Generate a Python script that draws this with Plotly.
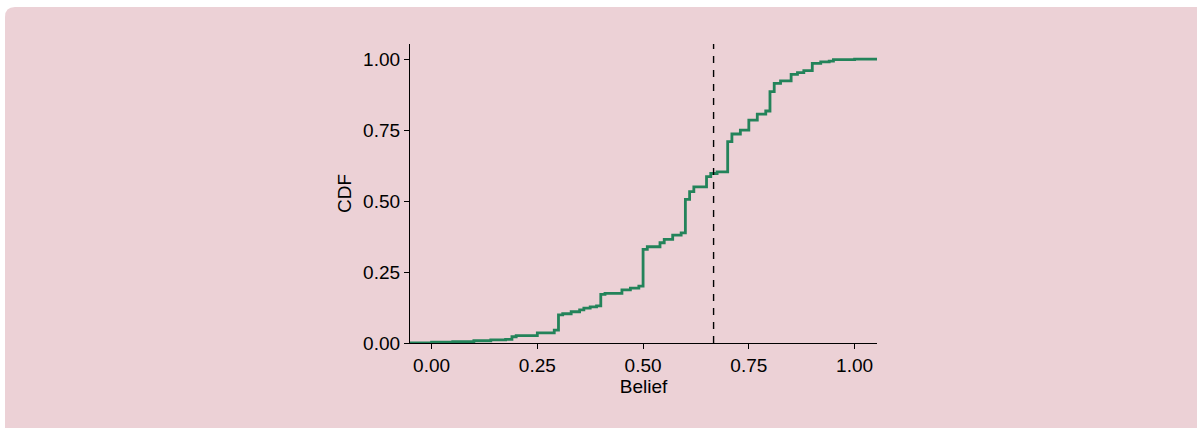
import plotly.graph_objects as go

# Step points of the empirical CDF (belief value where the step occurs, CDF level after it)
belief = [-0.051, 0.0, 0.05, 0.10, 0.14, 0.175, 0.19, 0.20, 0.25, 0.29, 0.30, 0.31, 0.33, 0.35,
          0.36, 0.375, 0.39, 0.40, 0.41, 0.45, 0.47, 0.49, 0.50, 0.51, 0.54, 0.55, 0.57, 0.59,
          0.60, 0.61, 0.62, 0.65, 0.66, 0.675, 0.70, 0.71, 0.73, 0.75, 0.77, 0.79, 0.80, 0.81,
          0.825, 0.85, 0.865, 0.88, 0.90, 0.92, 0.94, 0.95, 1.00, 1.053]
cdf = [0.0, 0.003, 0.005, 0.008, 0.011, 0.013, 0.022, 0.026, 0.036, 0.045, 0.099, 0.103, 0.110, 0.117,
       0.123, 0.127, 0.131, 0.171, 0.175, 0.187, 0.193, 0.200, 0.330, 0.339, 0.353, 0.365, 0.380, 0.388,
       0.506, 0.533, 0.550, 0.586, 0.597, 0.603, 0.709, 0.736, 0.750, 0.785, 0.806, 0.817, 0.885, 0.914,
       0.923, 0.946, 0.952, 0.959, 0.985, 0.990, 0.993, 0.998, 1.000, 1.000]
threshold = 2 / 3
tick_vals = [0.0, 0.25, 0.5, 0.75, 1.0]
tick_text = ["0.00", "0.25", "0.50", "0.75", "1.00"]

W, H = 1197, 428
L, R, T, B = 410, 320, 44, 85
pw, ph = W - L - R, H - T - B

def px(x):
    return (x - L) / pw

def py(y):
    return (H - B - y) / ph

# rounded pink panel (pixel geometry converted to paper coords)
x0, x1, y0, y1, rad = 5, 1215, 7, 440, 10
rx, ry = rad / pw, rad / ph
X0, X1, Y0, Y1 = px(x0), px(x1), py(y0), py(y1)
path = (f"M {X0+rx},{Y0} L {X1-rx},{Y0} Q {X1},{Y0} {X1},{Y0-ry} "
        f"L {X1},{Y1+ry} Q {X1},{Y1} {X1-rx},{Y1} L {X0+rx},{Y1} Q {X0},{Y1} {X0},{Y1+ry} "
        f"L {X0},{Y0-ry} Q {X0},{Y0} {X0+rx},{Y0} Z")

fig = go.Figure()
fig.add_trace(go.Scatter(x=belief, y=cdf, mode="lines", line_shape="hv",
                         line=dict(color="#23835A", width=2.8), showlegend=False,
                         hoverinfo="skip"))

fig.add_shape(type="path", path=path, xref="paper", yref="paper",
              fillcolor="#ECD1D6", line=dict(width=0), layer="below")
fig.add_shape(type="line", x0=threshold, x1=threshold, y0=0, y1=1, xref="x", yref="paper",
              line=dict(color="black", width=1.4, dash="7px,7px"))

font = dict(family="Liberation Sans, Arial, sans-serif", size=19, color="black")
fig.update_layout(
    width=W, height=H,
    margin=dict(l=L, r=R, t=T, b=B),
    paper_bgcolor="white", plot_bgcolor="rgba(0,0,0,0)",
    font=font,
    xaxis=dict(range=[-0.051, 1.053], tickvals=tick_vals, ticktext=tick_text,
               showgrid=False, zeroline=False, showline=True, linecolor="black", linewidth=1.3,
               ticks="outside", ticklen=5, tickwidth=1.3, tickcolor="black",
               title=dict(text="Belief", font=font, standoff=4)),
    yaxis=dict(range=[0, 1.053], tickvals=tick_vals, ticktext=tick_text,
               showgrid=False, zeroline=False, showline=True, linecolor="black", linewidth=1.3,
               ticks="outside", ticklen=5, tickwidth=1.3, tickcolor="black",
               title=dict(text="CDF", font=font, standoff=6)),
)

fig.write_html("out.html", config={"displayModeBar": False},
               post_script="document.body.style.margin='0';")
